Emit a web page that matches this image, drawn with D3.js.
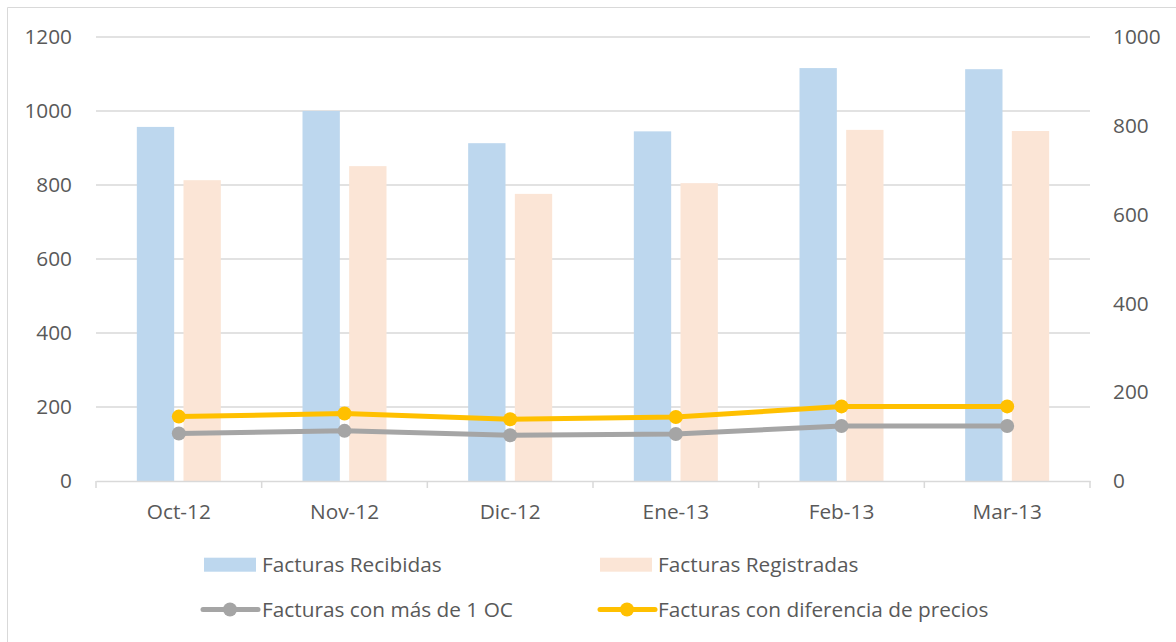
<!DOCTYPE html>
<html>
<head>
<meta charset="utf-8">
<script src="https://cdn.jsdelivr.net/npm/d3@7"></script>
<style>
  html, body { margin: 0; padding: 0; background: #fff; }
  svg { display: block; }
  text { font-family: "Open Sans", "Noto Sans", sans-serif; fill: #595959; }
</style>
</head>
<body>
<svg id="chart" width="1176" height="642"></svg>
<script>
const categories = ["Oct-12", "Nov-12", "Dic-12", "Ene-13", "Feb-13", "Mar-13"];
const recibidas = [957, 1000, 913, 945, 1116, 1113];
const registradas = [813, 851, 776, 805, 949, 946];
const masDe1OC = [107, 113, 103, 106, 124, 124];
const diferenciaPrecios = [145, 152, 139, 144, 168, 168];
const leftTicks = [0, 200, 400, 600, 800, 1000, 1200];
const rightTicks = [0, 200, 400, 600, 800, 1000];
const seriesNames = ["Facturas Recibidas", "Facturas Registradas", "Facturas con más de 1 OC", "Facturas con diferencia de precios"];

const colors = {
  recibidas: "#BDD7EE",
  registradas: "#FBE5D6",
  oc: "#A5A5A5",
  precios: "#FFC000",
  grid: "#D9D9D9"
};
const FS = 20.8;

const svg = d3.select("#chart");
const plot = { left: 96, right: 1090, top: 37, bottom: 481 };

// border
svg.append("path")
  .attr("d", `M7.5,642 L7.5,7.5 L1176,7.5`)
  .attr("fill", "none").attr("stroke", "#D9D9D9").attr("stroke-width", 1);

const x0 = d3.scaleBand().domain(categories).range([plot.left, plot.right]).paddingInner(0).paddingOuter(0);
const bw = x0.bandwidth();
const x1 = d3.scaleBand().domain(["recibidas", "registradas"]).range([bw / 2 - 42, bw / 2 + 42]).paddingInner(0.2);
const yL = d3.scaleLinear().domain([0, 1200]).range([plot.bottom, plot.top]);
const yR = d3.scaleLinear().domain([0, 1000]).range([plot.bottom, plot.top]);

// gridlines
svg.append("g").selectAll("line").data(leftTicks.filter(d => d > 0)).join("line")
  .attr("x1", plot.left).attr("x2", plot.right)
  .attr("y1", d => yL(d)).attr("y2", d => yL(d))
  .attr("stroke", colors.grid).attr("stroke-width", 1.5);

// left axis labels
const leftAxis = d3.axisLeft(yL).tickValues(leftTicks).tickFormat(d3.format("d")).tickSize(0).tickPadding(24);
const gL = svg.append("g").attr("transform", `translate(${plot.left},0)`).call(leftAxis);
gL.select(".domain").remove();
gL.selectAll("text").attr("font-size", FS).attr("fill", "#595959").attr("font-family", "Open Sans");

// right axis labels
const rightAxis = d3.axisRight(yR).tickValues(rightTicks).tickFormat(d3.format("d")).tickSize(0).tickPadding(23);
const gR = svg.append("g").attr("transform", `translate(${plot.right},0)`).call(rightAxis);
gR.select(".domain").remove();
gR.selectAll("text").attr("font-size", FS).attr("fill", "#595959").attr("font-family", "Open Sans");

// bars
const barData = categories.map((c, i) => ({ c, recibidas: recibidas[i], registradas: registradas[i] }));
const groups = svg.append("g").selectAll("g").data(barData).join("g")
  .attr("transform", d => `translate(${x0(d.c)},0)`);
groups.selectAll("rect").data(d => ["recibidas", "registradas"].map(k => ({ k, v: d[k] }))).join("rect")
  .attr("x", d => x1(d.k)).attr("width", x1.bandwidth())
  .attr("y", d => yL(d.v)).attr("height", d => yL(0) - yL(d.v))
  .attr("fill", d => colors[d.k]);

// x axis
const xAxis = d3.axisBottom(x0).tickSize(0).tickPadding(23);
const gX = svg.append("g").attr("transform", `translate(0,${plot.bottom})`).call(xAxis);
gX.select(".domain").attr("stroke", colors.grid).attr("stroke-width", 1.5);
gX.selectAll("text").attr("font-size", FS).attr("fill", "#595959").attr("font-family", "Open Sans");
// ticks at band boundaries
const boundaries = categories.map(c => x0(c)).concat([x0(categories[categories.length - 1]) + bw]);
gX.selectAll(".bnd").data(boundaries).join("line").attr("class", "bnd")
  .attr("x1", d => d).attr("x2", d => d).attr("y1", 0).attr("y2", 7)
  .attr("stroke", colors.grid).attr("stroke-width", 1.5);

// lines
const lineGen = d3.line().x((d, i) => x0(categories[i]) + bw / 2).y(d => yR(d));
[[masDe1OC, colors.oc], [diferenciaPrecios, colors.precios]].forEach(([vals, col]) => {
  svg.append("path").datum(vals).attr("d", lineGen)
    .attr("fill", "none").attr("stroke", col).attr("stroke-width", 5).attr("stroke-linejoin", "round");
  svg.append("g").selectAll("circle").data(vals).join("circle")
    .attr("cx", (d, i) => x0(categories[i]) + bw / 2).attr("cy", d => yR(d))
    .attr("r", 7).attr("fill", col);
});

// legend
const legend = [
  { name: seriesNames[0], type: "bar", color: colors.recibidas, x: 204, tx: 262, y: 564.7 },
  { name: seriesNames[1], type: "bar", color: colors.registradas, x: 600, tx: 658, y: 564.7 },
  { name: seriesNames[2], type: "line", color: colors.oc, x: 203, tx: 262, y: 609.5 },
  { name: seriesNames[3], type: "line", color: colors.precios, x: 600, tx: 658, y: 609.5 }
];
const lg = svg.append("g");
legend.forEach(d => {
  if (d.type === "bar") {
    lg.append("rect").attr("x", d.x).attr("y", d.y - 7).attr("width", 52).attr("height", 14).attr("fill", d.color);
  } else {
    lg.append("line").attr("x1", d.x).attr("x2", d.x + 55).attr("y1", d.y).attr("y2", d.y)
      .attr("stroke", d.color).attr("stroke-width", 5).attr("stroke-linecap", "round");
    lg.append("circle").attr("cx", d.x + 27).attr("cy", d.y).attr("r", 7).attr("fill", d.color);
  }
  lg.append("text").attr("x", d.tx).attr("y", d.y)
    .attr("dy", "0.35em").attr("font-size", FS).text(d.name);
});
</script>
</body>
</html>
